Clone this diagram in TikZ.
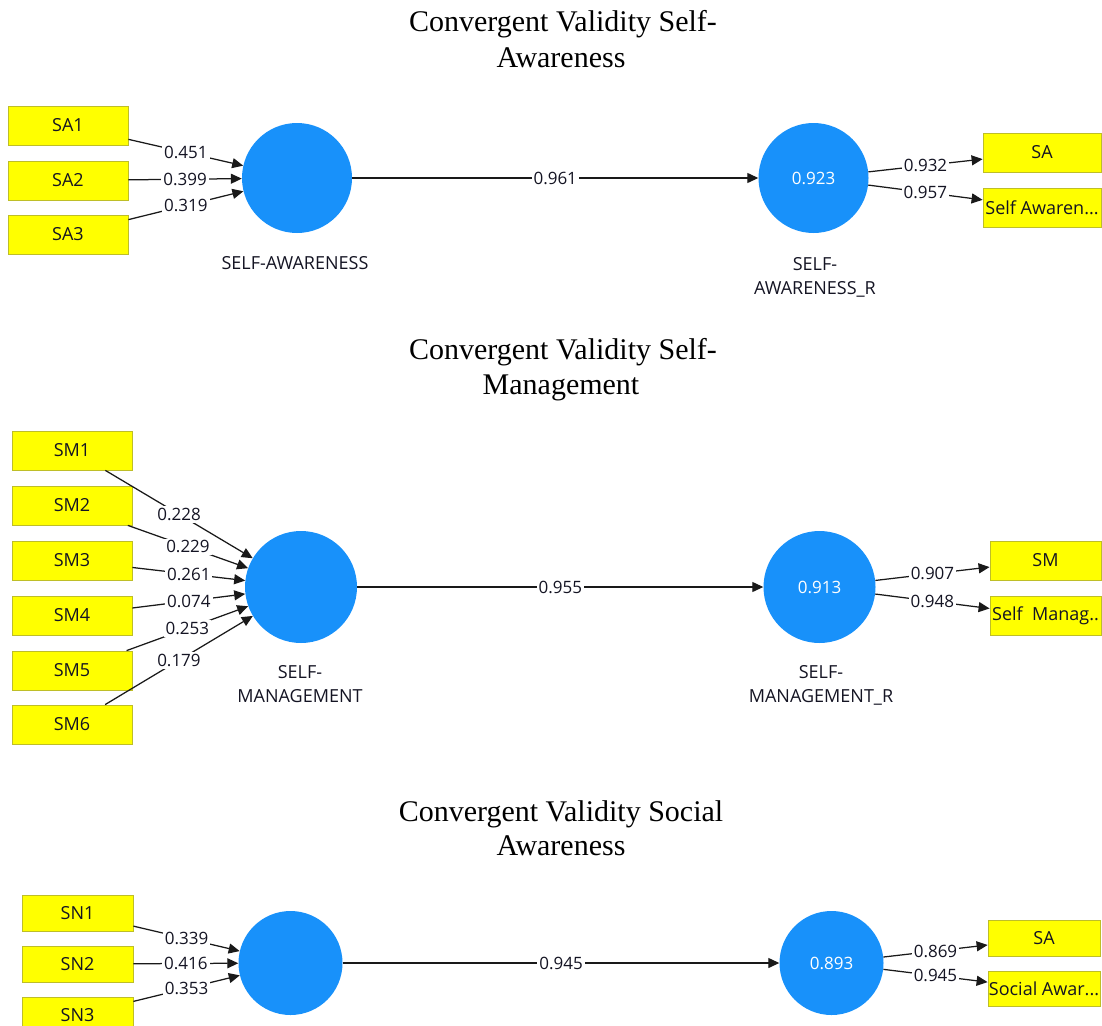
\documentclass[tikz,border=0pt]{standalone}
\usepackage{fontspec}
\setmainfont{Liberation Serif}
\newfontfamily\uifont{Open Sans}
\usetikzlibrary{arrows.meta}
\definecolor{indfill}{RGB}{255,255,0}
\definecolor{inddraw}{RGB}{190,190,40}
\definecolor{lvfill}{RGB}{24,145,250}
\definecolor{pathcol}{RGB}{25,25,25}
\definecolor{txt}{RGB}{20,20,35}

\begin{document}
\begin{tikzpicture}[x=1pt,y=-1pt,
  ind/.style={draw=inddraw, fill=indfill, line width=0.8pt, inner sep=0pt,
    minimum height=39pt, minimum width=120pt, text=txt,
    font=\uifont\fontsize{18}{20}\selectfont},
  lv/.style={circle, fill=lvfill, inner sep=0pt, minimum size=110pt,
    text=white, font=\uifont\fontsize{17}{20}\selectfont},
  link/.style={draw=pathcol, line width=1.25pt, -{Triangle[length=11pt,width=10pt]}},
  coef/.style={fill=white, inner sep=2pt, text=txt,
    font=\uifont\fontsize{17}{20}\selectfont},
  lvname/.style={anchor=base, inner sep=0pt, text=txt,
    font=\uifont\fontsize{18}{20}\selectfont},
  title/.style={anchor=base, inner sep=0pt, font=\fontsize{30}{34}\selectfont}
]
\useasboundingbox (0,0) rectangle (1102,1025);
\clip (0,0) rectangle (1102,1025);

% ---------------- Self-Awareness ----------------
\node[title] (t1a) at (563,32) {Convergent Validity Self-};
\node[title] (t1b) at (561,67) {Awareness};

\node[ind] (sa1) at (68,125.5) {SA1};
\node[ind] (sa2) at (68,180.5) {SA2};
\node[ind] (sa3) at (68,234.5) {SA3};
\node[lv] (saw) at (297,178) {};
\node[lv] (sawr) at (813.5,178) {0.923};
\node[ind, minimum width=118pt] (saind) at (1042,152.5) {SA};
\node[ind, minimum width=118pt] (safull) at (1042,207.5) {Self Awaren...};

\node[lvname] (sawn) at (295,269) {SELF-AWARENESS};
\node[lvname] (sawrn1) at (815,270) {SELF-};
\node[lvname] (sawrn2) at (815,294) {AWARENESS\_R};

\draw[link] (sa1) -- node[coef] (c11) {0.451} (saw);
\draw[link] (sa2) -- node[coef] (c12) {0.399} (saw);
\draw[link] (sa3) -- node[coef] (c13) {0.319} (saw);
\draw[link] (saw) -- node[coef] (c14) {0.961} (sawr);
\draw[link] (sawr) -- node[coef] (c15) {0.932} (saind);
\draw[link] (sawr) -- node[coef] (c16) {0.957} (safull);

% ---------------- Self-Management ----------------
\node[title] (t2a) at (563,359) {Convergent Validity Self-};
\node[title] (t2b) at (561,394) {Management};

\node[ind] (sm1) at (72,450.5) {SM1};
\node[ind] (sm2) at (72,505.5) {SM2};
\node[ind] (sm3) at (72,560.5) {SM3};
\node[ind] (sm4) at (72,615.5) {SM4};
\node[ind] (sm5) at (72,670.5) {SM5};
\node[ind] (sm6) at (72,724.5) {SM6};
\node[lv, minimum size=112pt] (smg) at (301,587) {};
\node[lv, minimum size=112pt] (smgr) at (819.5,587) {0.913};
\node[ind, minimum width=111pt] (smind) at (1045.5,560.5) {SM};
\node[ind, minimum width=111pt] (smfull) at (1045.5,615.5) {Self~~Manag..};

\node[lvname] (smgn1) at (300,678) {SELF-};
\node[lvname] (smgn2) at (300,702) {MANAGEMENT};
\node[lvname] (smgrn1) at (821,678) {SELF-};
\node[lvname] (smgrn2) at (821,702) {MANAGEMENT\_R};

\draw[link] (sm1) -- node[coef] (c21) {0.228} (smg);
\draw[link] (sm2) -- node[coef] (c22) {0.229} (smg);
\draw[link] (sm3) -- node[coef] (c23) {0.261} (smg);
\draw[link] (sm4) -- node[coef] (c24) {0.074} (smg);
\draw[link] (sm5) -- node[coef] (c25) {0.253} (smg);
\draw[link] (sm6) -- node[coef] (c26) {0.179} (smg);
\draw[link] (smg) -- node[coef] (c27) {0.955} (smgr);
\draw[link] (smgr) -- node[coef] (c28) {0.907} (smind);
\draw[link] (smgr) -- node[coef] (c29) {0.948} (smfull);

% ---------------- Social Awareness ----------------
\node[title] (t3a) at (561,821) {Convergent Validity Social};
\node[title] (t3b) at (561,855) {Awareness};

\node[ind, minimum width=111pt, minimum height=36pt] (sn1) at (77.5,913) {SN1};
\node[ind, minimum width=111pt, minimum height=36pt] (sn2) at (77.5,964) {SN2};
\node[ind, minimum width=111pt, minimum height=36pt] (sn3) at (77.5,1015) {SN3};
\node[lv, minimum size=104pt] (soc) at (290.5,963) {};
\node[lv, minimum size=104pt] (socr) at (831.5,963) {0.893};
\node[ind, minimum width=112pt, minimum height=35.5pt] (snind) at (1044,938.5) {SA};
\node[ind, minimum width=112pt, minimum height=35.5pt] (snfull) at (1044,989) {Social Awar...};

\draw[link] (sn1) -- node[coef] (c31) {0.339} (soc);
\draw[link] (sn2) -- node[coef] (c32) {0.416} (soc);
\draw[link] (sn3) -- node[coef] (c33) {0.353} (soc);
\draw[link] (soc) -- node[coef] (c34) {0.945} (socr);
\draw[link] (socr) -- node[coef] (c35) {0.869} (snind);
\draw[link] (socr) -- node[coef] (c36) {0.945} (snfull);
\end{tikzpicture}
\end{document}
